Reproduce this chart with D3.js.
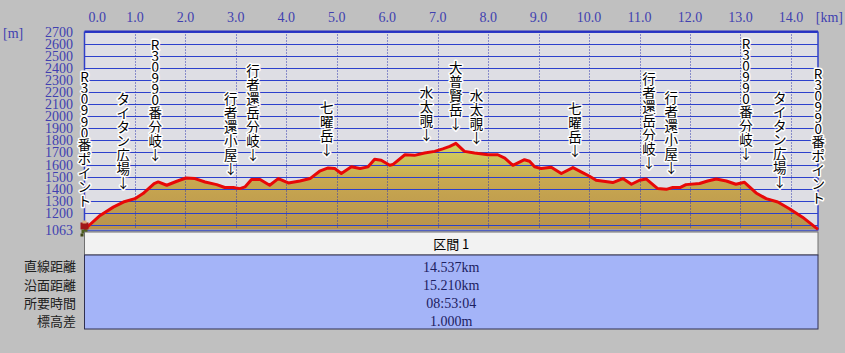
<!DOCTYPE html>
<html>
<head>
<meta charset="utf-8">
<script src="https://cdn.jsdelivr.net/npm/d3@7"></script>
<style>
  html, body { margin: 0; padding: 0; background: #c0c0c0; }
  svg { display: block; }
</style>
</head>
<body>
<script>
(function () {
  'use strict'

  // Route profile: distance [km] and elevation [m]
  var distKm = [0, 0.31, 0.57, 0.77, 1.00, 1.16, 1.38, 1.46, 1.63, 1.83, 2.01, 2.19, 2.39, 2.62, 2.78, 2.95,
    3.08, 3.18, 3.31, 3.48, 3.67, 3.84, 4.04, 4.27, 4.47, 4.66, 4.83, 4.96, 5.09, 5.29, 5.46, 5.62,
    5.75, 5.88, 6.05, 6.11, 6.35, 6.54, 6.74, 6.94, 7.10, 7.24, 7.36, 7.53, 7.73, 8.00, 8.19, 8.33,
    8.49, 8.72, 8.82, 8.92, 9.05, 9.25, 9.45, 9.68, 9.88, 10.01, 10.14, 10.47, 10.67, 10.84, 11.00,
    11.13, 11.36, 11.53, 11.66, 11.80, 11.92, 12.19, 12.35, 12.52, 12.72, 12.91, 13.08, 13.31, 13.51,
    13.74, 13.97, 14.23, 14.537]
  var elevM = [1063, 1179, 1248, 1290, 1318, 1360, 1443, 1456, 1429, 1462, 1489, 1484, 1456, 1434, 1410, 1410,
    1401, 1415, 1476, 1476, 1429, 1484, 1448, 1464, 1484, 1545, 1572, 1567, 1526, 1581, 1567, 1581,
    1643, 1636, 1594, 1600, 1681, 1676, 1696, 1709, 1730, 1750, 1775, 1709, 1696, 1681, 1681, 1653,
    1594, 1640, 1627, 1581, 1567, 1578, 1526, 1575, 1531, 1503, 1470, 1451, 1484, 1437, 1470,
    1481, 1401, 1395, 1410, 1410, 1434, 1443, 1464, 1481, 1464, 1437, 1453, 1365, 1318,
    1290, 1235, 1165, 1064]

  // Axis ticks
  var kmTicks = d3.range(0, 15)
  var mTicks = d3.range(1200, 2701, 100)
  var gridM = d3.range(1100, 2701, 100)
  var minElev = 1063
  var maxElev = 2700
  var totalKm = 14.537

  // Waypoint labels: position [km], elevation of first character [m], text
  var markKm = [0.0, 0.77, 1.40, 2.90, 3.34, 4.80, 6.78, 7.36, 7.77, 9.72, 11.19, 11.63, 13.11, 13.78, 14.54]
  var markTopM = [2332, 2150, 2597, 2150, 2382, 2076, 2200, 2407, 2175, 2068, 2316, 2159, 2605, 2159, 2357]
  var markText = ['R309 90番ポイント', 'タイタン広場↓', 'R309 90番分岐↓', '行者還小屋↓', '行者還岳分岐↓',
    '七曜岳↓', '水太覗↓', '大普賢岳↓', '水太覗↓', '七曜岳↓', '行者還岳分岐↓', '行者還小屋↓',
    'R309 90番分岐↓', 'タイタン広場↓', 'R309 90番ポイント']

  // Summary table
  var sectionName = '区間 1'
  var rowNames = ['直線距離', '沿面距離', '所要時間', '標高差']
  var rowValues = ['14.537km', '15.210km', '08:53:04', '1.000m']

  var w = 845
  var h = 353
  var left = 84.5
  var right = 818
  var top = 31.5
  var bottom = 229.5
  var axisColor = '#4040b0'
  var numFont = '"Liberation Serif", serif'
  var jpFont = '"Noto Sans CJK JP", sans-serif'

  var x = d3.scaleLinear().domain([0, totalKm]).range([left, right])
  var y = d3.scaleLinear().domain([minElev, maxElev]).range([bottom, top])

  var profile = distKm.map(function (d, i) { return { km: d, m: elevM[i] } })

  var svg = d3.select('body').append('svg')
    .attr('width', w)
    .attr('height', h)

  svg.append('rect').attr('width', w).attr('height', h).attr('fill', '#c0c0c0')

  var defs = svg.append('defs')
  var grad = defs.append('linearGradient')
    .attr('id', 'fillGrad')
    .attr('gradientUnits', 'userSpaceOnUse')
    .attr('x1', 0).attr('x2', 0)
    .attr('y1', y(minElev)).attr('y2', y(1800))
  grad.append('stop').attr('offset', '0%').attr('stop-color', '#b8924c')
  grad.append('stop').attr('offset', '55%').attr('stop-color', '#c8a850')
  grad.append('stop').attr('offset', '100%').attr('stop-color', '#d4d862')

  // Plot background
  svg.append('rect')
    .attr('x', left).attr('y', top)
    .attr('width', right - left).attr('height', bottom - top)
    .attr('fill', '#dedee4')

  // Area under profile
  var area = d3.area()
    .x(function (d) { return x(d.km) })
    .y0(y(minElev))
    .y1(function (d) { return y(d.m) })
  svg.append('path')
    .datum(profile)
    .attr('d', area)
    .attr('fill', 'url(#fillGrad)')

  // Horizontal grid
  svg.append('g').selectAll('line')
    .data(gridM)
    .enter().append('line')
      .attr('x1', left).attr('x2', right)
      .attr('y1', function (d) { return Math.round(y(d)) + 0.5 })
      .attr('y2', function (d) { return Math.round(y(d)) + 0.5 })
      .attr('stroke', '#2c40cc')
      .attr('stroke-width', 1)

  // Vertical dotted grid
  svg.append('g').selectAll('line')
    .data(kmTicks.slice(1))
    .enter().append('line')
      .attr('x1', function (d) { return Math.round(x(d)) + 0.5 })
      .attr('x2', function (d) { return Math.round(x(d)) + 0.5 })
      .attr('y1', top).attr('y2', bottom)
      .attr('stroke', '#3038b0')
      .attr('stroke-width', 1)
      .attr('stroke-dasharray', '1,2')

  // Plot frame
  svg.append('line')
    .attr('x1', left).attr('x2', right).attr('y1', top).attr('y2', top)
    .attr('stroke', '#2830c0').attr('stroke-width', 2)
  svg.append('line')
    .attr('x1', left).attr('x2', left).attr('y1', top).attr('y2', bottom + 1)
    .attr('stroke', '#3040c8').attr('stroke-width', 1.5)
  svg.append('line')
    .attr('x1', right).attr('x2', right).attr('y1', top).attr('y2', bottom + 1)
    .attr('stroke', '#3040c8').attr('stroke-width', 1.5)
  svg.append('line')
    .attr('x1', left).attr('x2', right).attr('y1', bottom + 1).attr('y2', bottom + 1)
    .attr('stroke', '#5060c0').attr('stroke-width', 1.5)

  // Profile line
  var line = d3.line()
    .x(function (d) { return x(d.km) })
    .y(function (d) { return y(d.m) })
  svg.append('path')
    .datum(profile)
    .attr('d', line)
    .attr('fill', 'none')
    .attr('stroke', '#e80808')
    .attr('stroke-width', 3)
    .attr('stroke-linejoin', 'round')

  // Start marker (hiker)
  var hiker = svg.append('g')
    .attr('transform', 'translate(' + x(0) + ',' + y(minElev) + ')')
  hiker.append('rect').attr('x', -4).attr('y', -7).attr('width', 8).attr('height', 7).attr('fill', '#a01818')
  hiker.append('rect').attr('x', -2).attr('y', -9).attr('width', 4).attr('height', 3).attr('fill', '#d8b080')
  hiker.append('rect').attr('x', -3).attr('y', 0).attr('width', 6).attr('height', 4).attr('fill', '#506020')
  hiker.append('rect').attr('x', -4).attr('y', 4).attr('width', 3).attr('height', 3).attr('fill', '#404818')
  hiker.append('rect').attr('x', 1).attr('y', 4).attr('width', 3).attr('height', 3).attr('fill', '#404818')

  // Top axis (km)
  svg.append('g').selectAll('text')
    .data(kmTicks)
    .enter().append('text')
      .attr('x', function (d) { return d === 0 ? x(d) + 4 : x(d) })
      .attr('y', 22)
      .attr('text-anchor', function (d) { return d === 0 ? 'start' : 'middle' })
      .attr('font-family', numFont)
      .attr('font-size', 14)
      .attr('fill', axisColor)
      .text(function (d) { return d.toFixed(1) })
  svg.append('text')
    .attr('x', 843).attr('y', 22)
    .attr('text-anchor', 'end')
    .attr('font-family', numFont).attr('font-size', 14)
    .attr('fill', axisColor)
    .text('[km]')

  // Left axis (m)
  svg.append('g').selectAll('text')
    .data(mTicks.concat([minElev]))
    .enter().append('text')
      .attr('x', 73)
      .attr('y', function (d) { return y(d) })
      .attr('dy', '0.36em')
      .attr('text-anchor', 'end')
      .attr('font-family', numFont)
      .attr('font-size', 14)
      .attr('fill', axisColor)
      .text(function (d) { return d })
  svg.append('text')
    .attr('x', 3).attr('y', 38)
    .attr('font-family', numFont).attr('font-size', 14)
    .attr('fill', axisColor)
    .text('[m]')

  // Waypoint labels, one vertical text each, a tspan per character
  function charStep (c) {
    if (c === ' ') return 4
    return /[\x21-\x7e]/.test(c) ? 11 : 14
  }
  var marks = svg.append('g')
    .attr('font-family', jpFont)
    .attr('font-size', 13.5)
    .attr('text-anchor', 'middle')
    .attr('fill', '#000')
    .attr('stroke', '#fff')
    .attr('stroke-width', 3)
    .attr('stroke-linejoin', 'round')
    .attr('paint-order', 'stroke')
  markText.forEach(function (txt, i) {
    var cy = y(markTopM[i])
    var cx = x(markKm[i])
    var chars = txt.split('')
    var t = marks.append('text').attr('dominant-baseline', 'central')
    chars.forEach(function (c, j) {
      if (c !== ' ') {
        t.append('tspan')
          .attr('x', cx)
          .attr('y', cy)
          .text(c)
      }
      var next = chars[j + 1]
      if (next !== undefined) {
        cy += (c === ' ' ? 4 : (charStep(c) + charStep(next)) / 2)
      }
    })
  })

  // Summary table
  var headTop = 232
  var headBottom = 255
  var tableBottom = 329
  svg.append('rect')
    .attr('x', left).attr('y', headTop)
    .attr('width', right - left).attr('height', headBottom - headTop)
    .attr('fill', '#f2f2f2')
    .attr('stroke', '#707070')
    .attr('stroke-width', 1)
  svg.append('text')
    .attr('x', (left + right) / 2).attr('y', (headTop + headBottom) / 2 + 1)
    .attr('dy', '0.36em')
    .attr('text-anchor', 'middle')
    .attr('font-family', jpFont).attr('font-size', 13)
    .attr('fill', '#000')
    .text(sectionName)

  svg.append('rect')
    .attr('x', left).attr('y', headBottom)
    .attr('width', right - left).attr('height', tableBottom - headBottom)
    .attr('fill', '#a4b4f8')
    .attr('stroke', '#303050')
    .attr('stroke-width', 1)

  var rowY = d3.scaleBand()
    .domain(rowNames)
    .range([headBottom + 2.5, tableBottom + 1.5])

  svg.append('g').selectAll('text')
    .data(rowNames)
    .enter().append('text')
      .attr('x', 76)
      .attr('y', function (d) { return rowY(d) + rowY.bandwidth() / 2 })
      .attr('dy', '0.36em')
      .attr('text-anchor', 'end')
      .attr('font-family', jpFont)
      .attr('font-size', 13)
      .attr('fill', '#202020')
      .text(function (d) { return d })

  svg.append('g').selectAll('text')
    .data(rowValues)
    .enter().append('text')
      .attr('x', (left + right) / 2)
      .attr('y', function (d, i) { return rowY(rowNames[i]) + rowY.bandwidth() / 2 })
      .attr('dy', '0.36em')
      .attr('text-anchor', 'middle')
      .attr('font-family', numFont)
      .attr('font-size', 14)
      .attr('fill', '#1c2060')
      .text(function (d) { return d })
}())
</script>
</body>
</html>
